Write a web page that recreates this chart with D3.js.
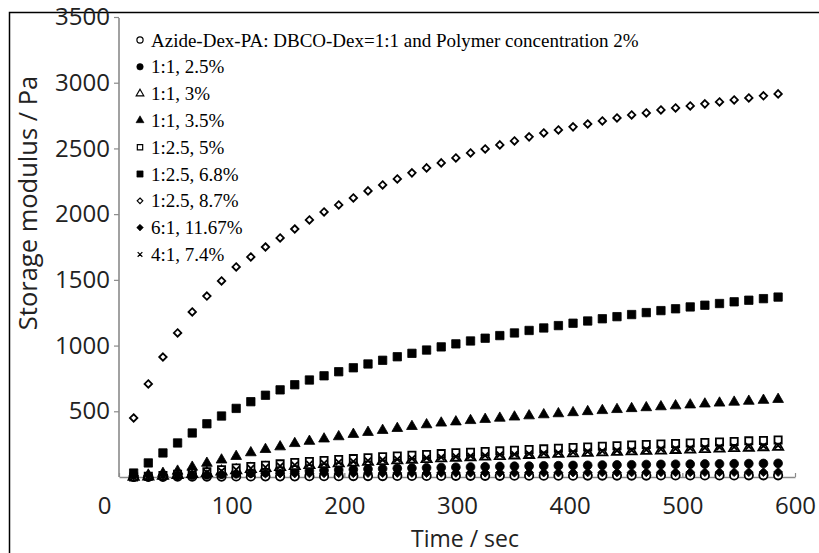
<!DOCTYPE html>
<html>
<head>
<meta charset="utf-8">
<script src="https://cdn.jsdelivr.net/npm/d3@7"></script>
<style>
body { margin: 0; background: #fff; }
</style>
</head>
<body>
<div id="chart"></div>
<script>
// time points (sec)
let times = [13, 26, 39, 52, 65, 78, 91, 104, 117, 130, 143, 156, 169, 182, 195, 208, 221, 234, 247, 260,
    273, 286, 299, 312, 325, 338, 351, 364, 377, 390, 403, 416, 429, 442, 455, 468, 481, 494, 507, 520,
    533, 546, 559, 572, 585];

// storage modulus (Pa), one array per sample
let azide2 = [0, 1, 1, 2, 2, 3, 3, 4, 4, 5, 5, 5, 6, 6, 6, 7, 7, 7, 8, 8,
    8, 8, 9, 9, 9, 9, 10, 10, 10, 10, 10, 11, 11, 11, 11, 11, 12, 12, 12, 12,
    12, 12, 13, 13, 13];
let r11_25 = [0, 2, 5, 8, 12, 16, 20, 25, 30, 35, 39, 43, 47, 51, 54, 57, 60, 63, 66, 68,
    70, 72, 74, 76, 78, 80, 82, 83, 85, 86, 88, 89, 91, 92, 93, 95, 96, 97, 98, 99,
    100, 101, 102, 103, 104];
let r11_3 = [0, 3, 8, 14, 22, 30, 40, 50, 59, 67, 75, 83, 90, 97, 103, 109, 115, 121, 126, 131,
    136, 141, 146, 150, 155, 159, 163, 167, 171, 175, 179, 183, 187, 190, 194, 198, 201, 205, 208, 212,
    215, 219, 222, 226, 229];
let r11_35 = [5, 15, 28, 45, 75, 105, 130, 157, 185, 210, 230, 255, 272, 290, 307, 325, 340, 355, 370, 385,
    398, 411, 420, 430, 439, 448, 457, 466, 474, 482, 490, 498, 506, 514, 521, 528, 535, 542, 549, 556,
    563, 570, 577, 584, 591];
let r125_5 = [0, 5, 12, 20, 30, 40, 55, 68, 80, 90, 100, 110, 118, 126, 133, 140, 147, 154, 160, 166,
    172, 178, 184, 189, 194, 199, 204, 209, 214, 219, 224, 229, 234, 238, 243, 247, 251, 255, 259, 263,
    267, 271, 275, 278, 282];
let r125_68 = [30, 107, 183, 259, 335, 405, 464, 522, 573, 622, 663, 702, 738, 770, 801, 831, 860, 888, 915, 941,
    966, 990, 1013, 1035, 1056, 1076, 1096, 1115, 1134, 1152, 1170, 1187, 1204, 1220, 1236, 1251, 1266, 1280, 1294, 1307,
    1320, 1333, 1345, 1357, 1369];
let r125_87 = [449, 708, 913, 1096, 1256, 1377, 1492, 1598, 1674, 1750, 1819, 1887, 1956, 2017, 2070, 2123, 2177, 2222, 2268, 2314,
    2352, 2390, 2428, 2466, 2496, 2527, 2557, 2588, 2618, 2641, 2664, 2686, 2709, 2732, 2755, 2770, 2793, 2808, 2823, 2839,
    2854, 2869, 2884, 2900, 2915];
let r61_1167 = [10, 14, 17, 19, 21, 22, 23, 24, 25, 26, 27, 27, 28, 28, 29, 29, 30, 30, 31, 31,
    31, 32, 32, 32, 33, 33, 33, 34, 34, 34, 34, 35, 35, 35, 35, 36, 36, 36, 36, 37,
    37, 37, 37, 37, 38];
let r41_74 = [0, 4, 10, 17, 26, 35, 46, 56, 66, 74, 83, 91, 98, 105, 112, 118, 124, 130, 135, 140,
    145, 150, 155, 160, 164, 169, 173, 177, 181, 185, 189, 193, 197, 201, 204, 208, 212, 215, 219, 222,
    226, 229, 233, 236, 240];

let legendLabels = [
    "Azide-Dex-PA: DBCO-Dex=1:1 and Polymer concentration 2%",
    "1:1, 2.5%", "1:1, 3%", "1:1, 3.5%", "1:2.5, 5%", "1:2.5, 6.8%",
    "1:2.5, 8.7%", "6:1, 11.67%", "4:1, 7.4%"
];
let xTicks = [0, 100, 200, 300, 400, 500, 600];
let yTicks = [500, 1000, 1500, 2000, 2500, 3000, 3500];

const width = 819, height = 553;

// a cross symbol, drawn as two strokes
let symbolX = {
    draw: function (ctx, size) {
        let r = Math.sqrt(size) / 2;
        ctx.moveTo(-r, -r); ctx.lineTo(r, r);
        ctx.moveTo(r, -r); ctx.lineTo(-r, r);
    }
};

// square turned 45 degrees (Excel style diamond)
let symbolRhomb = {
    draw: function (ctx, size) {
        let r = Math.sqrt(size) / Math.SQRT2;
        ctx.moveTo(0, -r); ctx.lineTo(r, 0); ctx.lineTo(0, r); ctx.lineTo(-r, 0); ctx.closePath();
    }
};

let series = [
    {values: azide2,   shape: d3.symbolCircle,   filled: false, size: 55},
    {values: r11_25,   shape: d3.symbolCircle,   filled: true,  size: 60},
    {values: r11_3,    shape: d3.symbolTriangle, filled: false, size: 45},
    {values: r11_35,   shape: d3.symbolTriangle, filled: true,  size: 50},
    {values: r125_5,   shape: d3.symbolSquare,   filled: false, size: 52},
    {values: r125_68,  shape: d3.symbolSquare,   filled: true,  size: 70},
    {values: r125_87,  shape: symbolRhomb,       filled: false, size: 28},
    {values: r61_1167, shape: symbolRhomb,       filled: true,  size: 40},
    {values: r41_74,   shape: symbolX,           filled: false, size: 40}
];

let svg = d3.select("#chart")
    .append("svg")
    .attr("width", width)
    .attr("height", height);

svg.append("rect").attr("width", width).attr("height", height).attr("fill", "#fff");

// outer frame (left and top edges visible)
svg.append("rect")
    .attr("x", 9.5).attr("y", 12.5)
    .attr("width", 830).attr("height", 570)
    .attr("fill", "none")
    .attr("stroke", "#000")
    .attr("stroke-width", 1.5);

let x = d3.scaleLinear().domain([0, 600]).range([119, 795]);
let y = d3.scaleLinear().domain([0, 3500]).range([477, 17]);

// y axis
let yAxis = svg.append("g")
    .attr("transform", `translate(${x(0)},0)`)
    .call(d3.axisLeft(y).tickValues(yTicks).tickSize(5).tickSizeOuter(0).tickPadding(4).tickFormat(d3.format("d")));
yAxis.select(".domain").attr("stroke", "#8a8a8a").attr("stroke-width", 1.6)
    .attr("d", `M0,${y(3500) + 1}V${y(0)}`);
yAxis.selectAll(".tick line").attr("stroke", "#8a8a8a").attr("stroke-width", 1.2);
yAxis.selectAll("text")
    .style("font-family", "'Open Sans', sans-serif")
    .style("font-size", "24px")
    .attr("fill", "#222");

// x axis
let xAxis = svg.append("g")
    .attr("transform", `translate(0,${y(0)})`)
    .call(d3.axisBottom(x).tickValues(xTicks).tickSize(-4).tickSizeOuter(0).tickPadding(20));
xAxis.select(".domain").attr("stroke", "#8a8a8a").attr("stroke-width", 1.6);
xAxis.selectAll(".tick line").attr("stroke", "#8a8a8a").attr("stroke-width", 1.2);
xAxis.selectAll("text")
    .style("font-family", "'Open Sans', sans-serif")
    .style("font-size", "24px")
    .attr("fill", "#222")
    .attr("dx", function (d) { return d === 0 ? -15 : 0; });

// axis titles
svg.append("text")
    .attr("transform", `translate(37,203)rotate(-90)`)
    .style("text-anchor", "middle")
    .style("font-family", "'Open Sans', sans-serif")
    .style("font-size", "25.5px")
    .attr("fill", "#222")
    .text("Storage modulus / Pa");

svg.append("text")
    .attr("transform", `translate(465,547)`)
    .style("text-anchor", "middle")
    .style("font-family", "'Open Sans', sans-serif")
    .style("font-size", "23px")
    .attr("fill", "#222")
    .text("Time / sec");

// data markers
series.forEach(function (s) {
    svg.append("g").selectAll("path")
        .data(s.values)
        .enter()
        .append("path")
        .attr("transform", function (d, i) { return `translate(${x(times[i])},${y(d)})`; })
        .attr("d", d3.symbol().type(s.shape).size(s.size))
        .attr("fill", s.filled ? "#000" : "#fff")
        .attr("stroke", "#000")
        .attr("stroke-width", s.filled ? 0.8 : 1.8);
});

// legend
let legend = svg.append("g");
legendLabels.forEach(function (label, i) {
    let s = series[i];
    let cy = 40 + i * 26.8;
    legend.append("path")
        .attr("transform", `translate(140,${cy})`)
        .attr("d", d3.symbol().type(s.shape).size(s.size * 0.55))
        .attr("fill", s.filled ? "#000" : "#fff")
        .attr("stroke", "#000")
        .attr("stroke-width", s.filled ? 0.6 : 1.2);
    legend.append("text")
        .attr("x", 151)
        .attr("y", cy + 6.5)
        .style("font-family", "'Liberation Serif', 'Times New Roman', serif")
        .style("font-size", "19px")
        .attr("fill", "#000")
        .text(label);
});
</script>
</body>
</html>
